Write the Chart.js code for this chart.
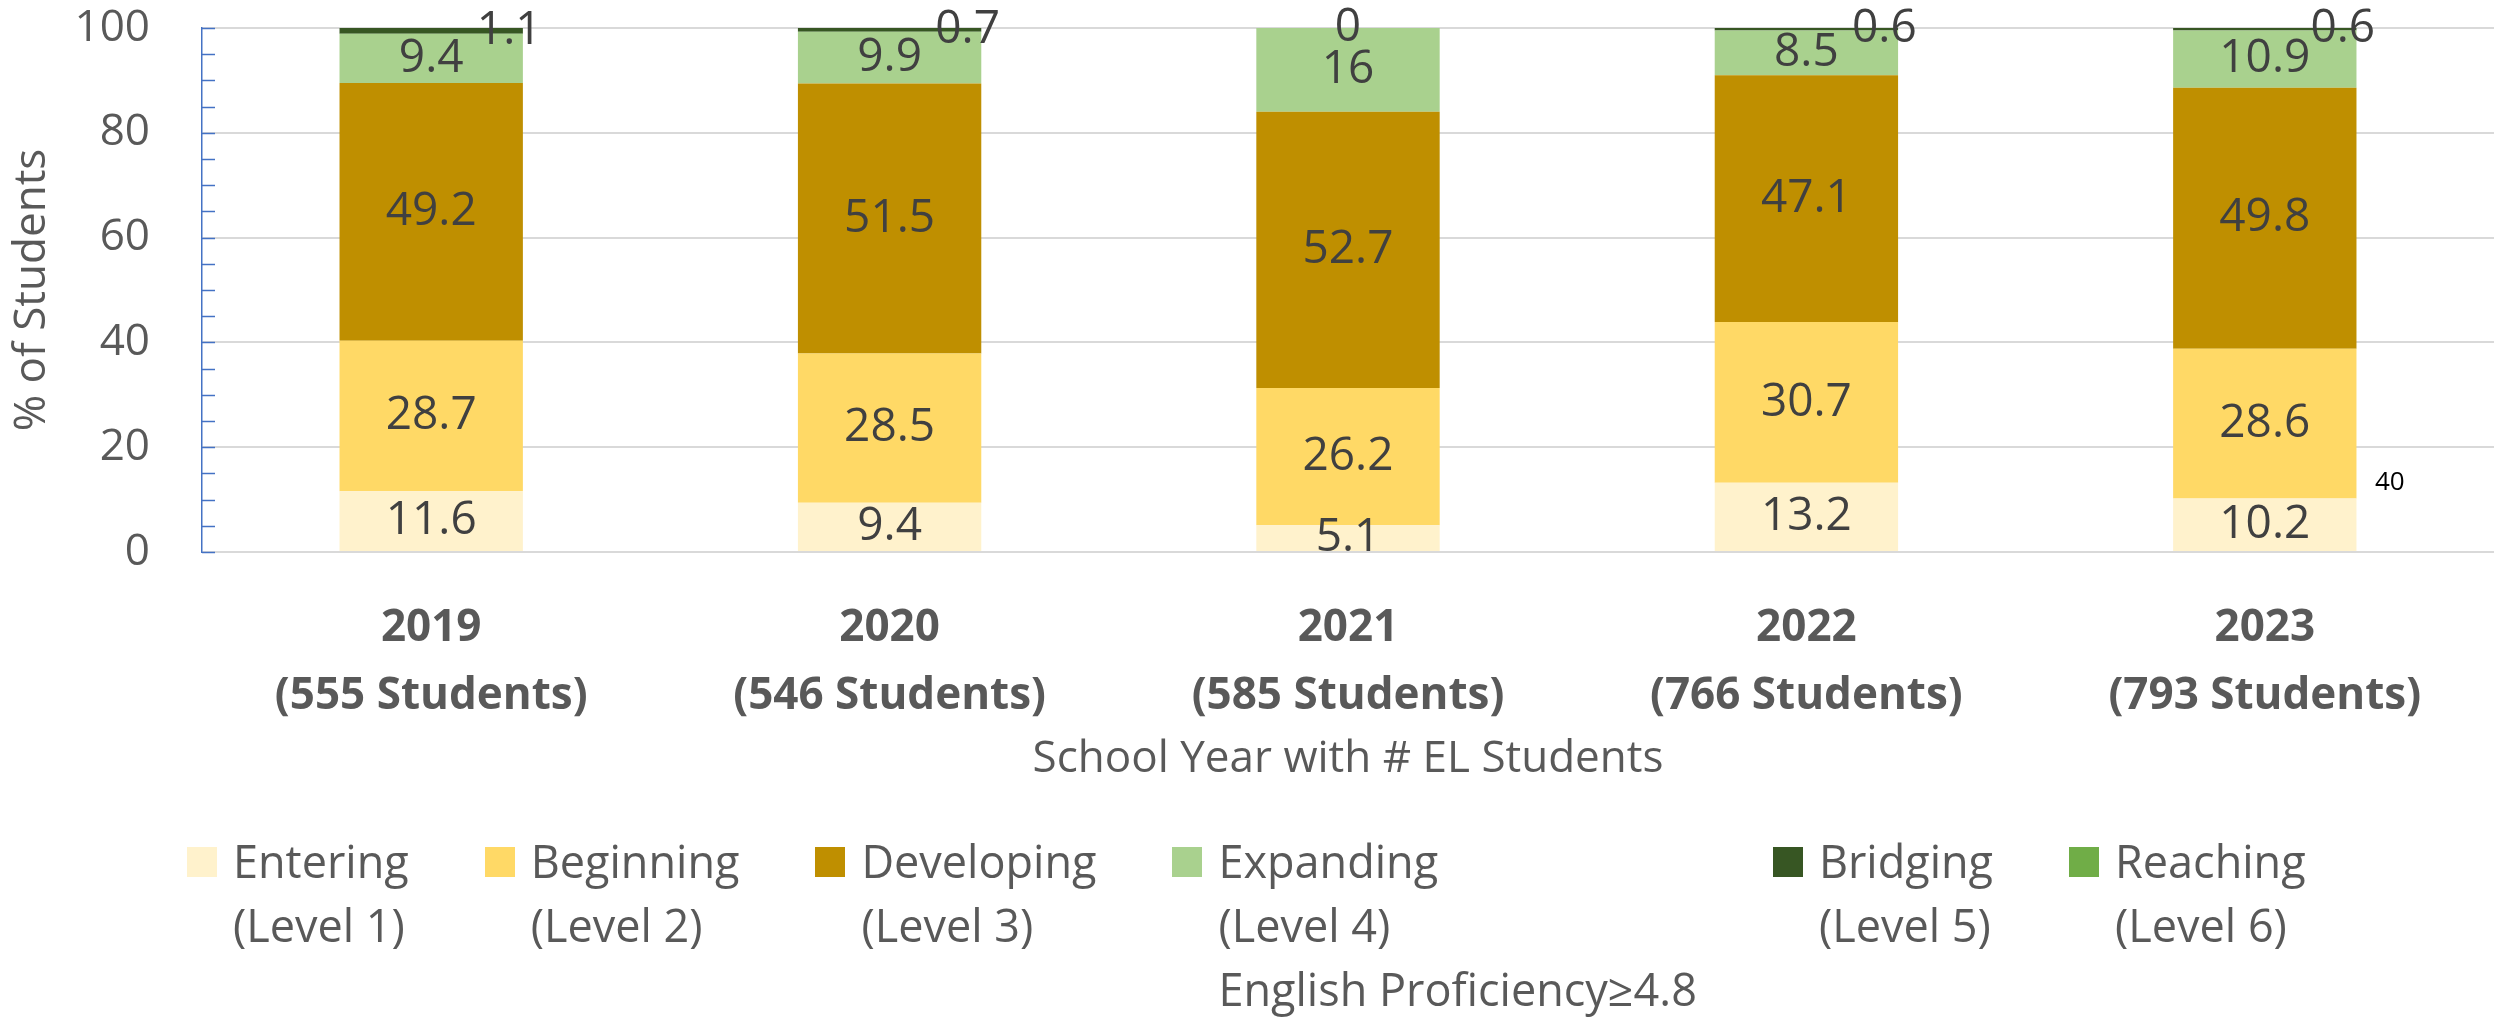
<!DOCTYPE html>
<html>
<head>
<meta charset="utf-8">
<script src="https://cdn.jsdelivr.net/npm/chart.js@4/dist/chart.umd.min.js"></script>
<style>
html, body { margin: 0; padding: 0; background: #fff; }
#wrap { position: relative; width: 2494px; height: 1019px; overflow: hidden; }
#chart { position: absolute; left: 0; top: 0; }
#legend { position: absolute; left: 187px; top: 829px; display: flex; gap: 76px;
  font-family: 'Open Sans', sans-serif; font-size: 45px; line-height: 64px; color: #595959; white-space: nowrap; }
.item { display: flex; align-items: flex-start; }
.sw { width: 30px; height: 30px; margin-top: 18px; margin-right: 16px; flex: none; }
#pagenum { position: absolute; left: 2375px; top: 462px; font: 26px 'Open Sans', sans-serif; color: #000; }
</style>
</head>
<body>
<div id="wrap">
  <canvas id="chart" width="2494" height="1019"></canvas>
  <div id="legend"></div>
  <div id="pagenum">40</div>
</div>
<script>
// school years and EL student counts
var years = ['2019', '2020', '2021', '2022', '2023'];
var studentCounts = [555, 546, 585, 766, 793];

// % of students at each level
var entering   = [11.6, 9.4, 5.1, 13.2, 10.2];
var beginning  = [28.7, 28.5, 26.2, 30.7, 28.6];
var developing = [49.2, 51.5, 52.7, 47.1, 49.8];
var expanding  = [9.4, 9.9, 16, 8.5, 10.9];
var bridging   = [1.1, 0.7, 0, 0.6, 0.6];
var reaching   = [0, 0, 0, 0, 0];

var yTicks = [0, 20, 40, 60, 80, 100];

var legendLines = [
    ['Entering', '(Level 1)'],
    ['Beginning', '(Level 2)'],
    ['Developing', '(Level 3)'],
    ['Expanding', '(Level 4)', 'English Proficiency\u22654.8'],
    ['Bridging', '(Level 5)'],
    ['Reaching', '(Level 6)']
];

var textGrey = '#595959';
var labelGrey = '#404040';
var font = "'Open Sans', sans-serif";

var categories = years.map(function (y, i) {
    return [y, '(' + studentCounts[i] + ' Students)'];
});

function ds(name, values, color, showLabels) {
    return {
        label: name,
        data: values,
        backgroundColor: color,
        borderWidth: 0,
        barPercentage: 0.4,
        categoryPercentage: 1,
        showLabels: showLabels
    };
}

// value labels in the middle of each segment
var segmentLabels = {
    id: 'segmentLabels',
    afterDatasetsDraw: function (chart) {
        var ctx = chart.ctx;
        ctx.save();
        ctx.font = '46px ' + font;
        ctx.fillStyle = labelGrey;
        ctx.textAlign = 'center';
        ctx.textBaseline = 'middle';
        chart.data.datasets.forEach(function (d, i) {
            if (!d.showLabels) return;
            chart.getDatasetMeta(i).data.forEach(function (bar, j) {
                var v = d.data[j];
                var p = bar.getProps(['x', 'y', 'base'], true);
                var x = p.x;
                // thin top segment: label pushed to the side
                if (d.label === 'Bridging' && v > 0) x += 78;
                ctx.fillText(String(v), x, (p.y + p.base) / 2);
            });
        });
        ctx.restore();
    }
};

// little blue tick marks on the value axis, every 5
var minorTicks = {
    id: 'minorTicks',
    afterDraw: function (chart) {
        var sc = chart.scales.y;
        var ctx = chart.ctx;
        ctx.save();
        ctx.strokeStyle = '#4472C4';
        ctx.lineWidth = 1.5;
        for (var v = sc.min; v <= sc.max; v += 5) {
            var py = Math.round(sc.getPixelForValue(v)) + 0.5;
            ctx.beginPath();
            ctx.moveTo(sc.right, py);
            ctx.lineTo(sc.right + 13, py);
            ctx.stroke();
        }
        ctx.restore();
    }
};

Chart.defaults.font.family = font;

new Chart(document.getElementById('chart'), {
    type: 'bar',
    data: {
        labels: categories,
        datasets: [
            ds('Entering', entering, '#FFF2CC', true),
            ds('Beginning', beginning, '#FFD966', true),
            ds('Developing', developing, '#BF8F00', true),
            ds('Expanding', expanding, '#A9D18E', true),
            ds('Bridging', bridging, '#375623', true),
            ds('Reaching', reaching, '#70AD47', false)
        ]
    },
    options: {
        responsive: false,
        animation: false,
        devicePixelRatio: 1,
        layout: { padding: { top: 28, bottom: 233, left: 0, right: 0 } },
        plugins: {
            legend: { display: false },
            tooltip: { enabled: false }
        },
        scales: {
            x: {
                stacked: true,
                grid: { display: false },
                border: { display: false },
                ticks: {
                    color: textGrey,
                    padding: 34,
                    maxRotation: 0,
                    font: { size: 44, weight: 'bold', lineHeight: 1.55 }
                },
                title: {
                    display: true,
                    text: 'School Year with # EL Students',
                    color: textGrey,
                    font: { size: 44 },
                    padding: { top: 11, bottom: 0 }
                },
                afterFit: function (scale) { scale.height = 234; }
            },
            y: {
                stacked: true,
                min: 0,
                max: 100,
                afterBuildTicks: function (scale) {
                    scale.ticks = yTicks.map(function (v) { return { value: v }; });
                },
                grid: { color: '#D9D9D9', lineWidth: 2, drawTicks: false },
                border: { color: '#4472C4', width: 1.5 },
                ticks: { color: textGrey, padding: 52, font: { size: 44 } },
                title: {
                    display: true,
                    text: '% of Students',
                    color: textGrey,
                    font: { size: 44 },
                    padding: { top: 6, bottom: 10 }
                },
                afterFit: function (scale) {
                    scale.width = 202;
                    scale.paddingTop = 24;
                    scale.paddingBottom = 24;
                }
            }
        }
    },
    plugins: [segmentLabels, minorTicks]
});

// legend below the chart
var colors = ['#FFF2CC', '#FFD966', '#BF8F00', '#A9D18E', '#375623', '#70AD47'];
var legend = document.getElementById('legend');
legendLines.forEach(function (lines, i) {
    var item = document.createElement('div');
    item.className = 'item';
    var sw = document.createElement('div');
    sw.className = 'sw';
    sw.style.background = colors[i];
    var txt = document.createElement('div');
    lines.forEach(function (l) {
        var line = document.createElement('div');
        line.textContent = l;
        txt.appendChild(line);
    });
    item.appendChild(sw);
    item.appendChild(txt);
    legend.appendChild(item);
});
</script>
</body>
</html>
